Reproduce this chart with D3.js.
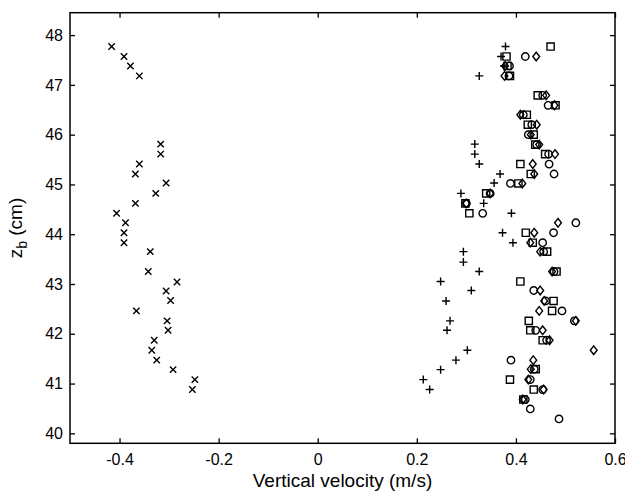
<!DOCTYPE html>
<html><head><meta charset="utf-8">
<script src="https://cdn.jsdelivr.net/npm/d3@7"></script>
<style>body{margin:0;background:#fff} text{font-family:"Liberation Sans",Arial,sans-serif;fill:#000}</style>
</head><body><svg id="c" width="625" height="492"></svg>
<script>
const xTicks=[-0.4,-0.2,0,0.2,0.4,0.6];
const xTickLabels=["-0.4","-0.2","0","0.2","0.4","0.6"];
const yTicks=[40,41,42,43,44,45,46,47,48];
const yTickLabels=["40","41","42","43","44","45","46","47","48"];

const crossZ=[47.77,47.57,47.38,47.18,45.81,45.61,45.41,45.21,45.03,44.82,44.62,44.42,44.23,44.03,43.83,43.65,43.25,43.04,42.86,42.67,42.46,42.26,42.07,41.87,41.67,41.47,41.28,41.08,40.88];
const crossV=[-0.416,-0.391,-0.378,-0.360,-0.317,-0.317,-0.360,-0.368,-0.306,-0.327,-0.368,-0.406,-0.388,-0.391,-0.391,-0.338,-0.342,-0.284,-0.306,-0.297,-0.366,-0.304,-0.302,-0.330,-0.335,-0.325,-0.292,-0.248,-0.253];

const plusZ=[47.77,47.57,47.38,47.18,45.81,45.61,45.41,45.21,45.03,44.82,44.62,44.42,44.03,43.83,43.65,43.44,43.25,43.05,42.87,42.66,42.26,42.07,41.67,41.47,41.28,41.08,40.88];
const plusV=[0.379,0.370,0.376,0.326,0.317,0.317,0.326,0.368,0.356,0.289,0.335,0.391,0.373,0.394,0.294,0.294,0.326,0.248,0.310,0.259,0.267,0.261,0.302,0.279,0.248,0.213,0.226];

const squareZ=[47.77,47.57,47.38,47.18,46.79,46.59,46.40,46.20,46.00,45.80,45.61,45.41,45.21,45.02,44.82,44.62,44.42,44.03,43.83,43.65,43.25,43.05,42.66,42.46,42.26,42.07,41.87,41.29,41.08,40.88,40.68];
const squareV=[0.470,0.381,0.383,0.388,0.444,0.480,0.422,0.424,0.436,0.439,0.459,0.409,0.430,0.405,0.340,0.298,0.306,0.420,0.434,0.463,0.482,0.409,0.476,0.473,0.426,0.429,0.454,0.440,0.388,0.436,0.415];

const circleZ=[47.57,47.38,47.18,46.79,46.59,46.40,46.20,46.00,45.80,45.61,45.41,45.21,45.02,44.82,44.62,44.42,44.23,44.03,43.83,43.65,43.25,42.87,42.66,42.46,42.26,42.07,41.87,41.47,41.29,41.08,40.88,40.68,40.49,40.29];
const circleV=[0.419,0.387,0.386,0.454,0.465,0.415,0.432,0.425,0.442,0.466,0.467,0.477,0.389,0.348,0.300,0.333,0.521,0.476,0.454,0.456,0.477,0.436,0.460,0.493,0.518,0.440,0.462,0.390,0.437,0.429,0.454,0.419,0.429,0.487];

const diamondZ=[47.57,47.38,47.18,46.79,46.59,46.40,46.20,46.00,45.80,45.61,45.41,45.21,45.02,44.82,44.62,44.23,44.03,43.83,43.65,43.25,42.87,42.66,42.46,42.26,42.07,41.87,41.67,41.47,41.29,41.08,40.88,40.68];
const diamondV=[0.441,0.378,0.377,0.461,0.478,0.409,0.442,0.430,0.447,0.479,0.434,0.437,0.413,0.348,0.300,0.485,0.437,0.429,0.449,0.473,0.449,0.457,0.447,0.521,0.454,0.468,0.557,0.435,0.430,0.425,0.456,0.414];

const svg=d3.select("#c");
const L=70,R=615,T=12.7,B=443.3;
const x=d3.scaleLinear().domain([-0.5,0.6]).range([L,R]);
const y=d3.scaleLinear().domain([39.8,48.45]).range([B,T]);

const axStyle=g=>{g.selectAll("path").remove();g.selectAll("line").attr("stroke","#000").attr("stroke-width",1.3);g.selectAll("text").attr("font-size",16).attr("fill","#000");};
svg.append("g").attr("transform",`translate(0,${B})`)
  .call(d3.axisBottom(x).tickValues(xTicks).tickFormat((d,i)=>xTickLabels[i]).tickSizeInner(-5).tickSizeOuter(0).tickPadding(10)).call(axStyle).attr("font-family",null);
svg.append("g").attr("transform",`translate(0,${T})`)
  .call(d3.axisTop(x).tickValues(xTicks).tickFormat("").tickSizeInner(-5).tickSizeOuter(0)).call(axStyle);
svg.append("g").attr("transform",`translate(${L},0)`)
  .call(d3.axisLeft(y).tickValues(yTicks).tickFormat((d,i)=>yTickLabels[i]).tickSizeInner(-5).tickSizeOuter(0).tickPadding(7)).call(axStyle).attr("font-family",null);
svg.append("g").attr("transform",`translate(${R},0)`)
  .call(d3.axisRight(y).tickValues(yTicks).tickFormat("").tickSizeInner(-5).tickSizeOuter(0)).call(axStyle);
svg.selectAll("g text").style("font-family",'"Liberation Sans",Arial,sans-serif');

svg.append("rect").attr("x",L).attr("y",T).attr("width",R-L).attr("height",B-T)
  .attr("fill","none").attr("stroke","#000").attr("stroke-width",1.5);

const shapes={
  cross:"M-3.2,-3.2L3.2,3.2M-3.2,3.2L3.2,-3.2",
  plus:"M-4,0L4,0M0,-4L0,4",
  square:"M-3.6,-3.6H3.6V3.6H-3.6Z",
  circle:"M3.7,0A3.7,3.7 0 1 1 -3.7,0A3.7,3.7 0 1 1 3.7,0Z",
  diamond:"M0,-4.3L3.4,0L0,4.3L-3.4,0Z"
};
function plot(V,Z,shape){
  svg.append("g").selectAll("path").data(V.map((v,i)=>[v,Z[i]])).join("path")
    .attr("transform",d=>`translate(${x(d[0])},${y(d[1])})`)
    .attr("d",shapes[shape]).attr("fill","none").attr("stroke","#000").attr("stroke-width",1.4);
}
plot(crossV,crossZ,"cross");
plot(plusV,plusZ,"plus");
plot(squareV,squareZ,"square");
plot(circleV,circleZ,"circle");
plot(diamondV,diamondZ,"diamond");

svg.append("text").attr("x",(L+R)/2).attr("y",487).attr("text-anchor","middle").attr("font-size",19)
  .text("Vertical velocity (m/s)");
const yl=svg.append("text").attr("transform",`translate(22,${(T+B)/2}) rotate(-90)`).attr("text-anchor","middle").attr("font-size",19);
yl.append("tspan").text("z");
yl.append("tspan").attr("dy",5).attr("font-size",14).text("b");
yl.append("tspan").attr("dy",-5).text(" (cm)");
</script></body></html>
